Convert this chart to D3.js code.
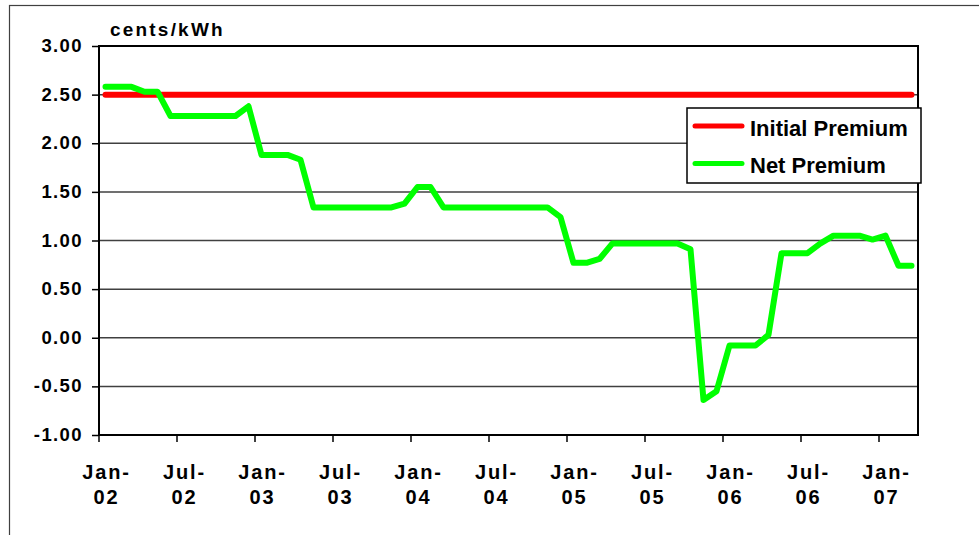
<!DOCTYPE html>
<html>
<head>
<meta charset="utf-8">
<script src="https://cdn.jsdelivr.net/npm/d3@7"></script>
<style>
  body { margin: 0; background: #fff; }
  svg text { font-family: "Liberation Sans", Arial, sans-serif; font-weight: bold; fill: #000; }
</style>
</head>
<body>
<div id="chart"></div>
<script>
// monthly categories, Jan-02 .. Mar-07
var months = d3.timeMonth.range(new Date(2002, 0, 1), new Date(2007, 3, 1));

// cents/kWh, one value per month
var initialPremium = [
  2.50, 2.50, 2.50, 2.50, 2.50, 2.50, 2.50, 2.50, 2.50, 2.50, 2.50, 2.50,
  2.50, 2.50, 2.50, 2.50, 2.50, 2.50, 2.50, 2.50, 2.50, 2.50, 2.50, 2.50,
  2.50, 2.50, 2.50, 2.50, 2.50, 2.50, 2.50, 2.50, 2.50, 2.50, 2.50, 2.50,
  2.50, 2.50, 2.50, 2.50, 2.50, 2.50, 2.50, 2.50, 2.50, 2.50, 2.50, 2.50,
  2.50, 2.50, 2.50, 2.50, 2.50, 2.50, 2.50, 2.50, 2.50, 2.50, 2.50, 2.50,
  2.50, 2.50, 2.50
];
var netPremium = [
  2.58, 2.58, 2.58, 2.53, 2.53, 2.28, 2.28, 2.28, 2.28, 2.28, 2.28, 2.38,
  1.88, 1.88, 1.88, 1.83, 1.34, 1.34, 1.34, 1.34, 1.34, 1.34, 1.34, 1.38,
  1.55, 1.55, 1.34, 1.34, 1.34, 1.34, 1.34, 1.34, 1.34, 1.34, 1.34, 1.24,
  0.77, 0.77, 0.81, 0.97, 0.97, 0.97, 0.97, 0.97, 0.97, 0.91, -0.64, -0.55,
  -0.08, -0.08, -0.08, 0.03, 0.87, 0.87, 0.87, 0.97, 1.05, 1.05, 1.05, 1.01,
  1.05, 0.74, 0.74
];
var yTicks = [-1, -0.5, 0, 0.5, 1, 1.5, 2, 2.5, 3];
var seriesNames = ["Initial Premium", "Net Premium"];
var seriesColors = ["#ff0000", "#00ff00"];

var width = 979,
    height = 535,
    plot_left = 99,
    plot_right = 918,
    plot_top = 46,
    plot_bottom = 435;

var svg = d3.select("#chart").append("svg")
    .attr("width", width)
    .attr("height", height);

// outer chart border
svg.append("rect")
    .attr("x", 9.5).attr("y", 5.5)
    .attr("width", 990).attr("height", 560)
    .attr("fill", "none")
    .attr("stroke", "#404040")
    .attr("stroke-width", 1.2);

// scales
var x = d3.scaleBand()
    .domain(months)
    .range([plot_left, plot_right])
    .paddingInner(0).paddingOuter(0);
var y = d3.scaleLinear()
    .domain([-1, 3])
    .range([plot_bottom, plot_top]);

var halfYear = months.filter(function(d){ return d.getMonth() % 6 == 0; });

// gridlines
svg.append("g")
    .attr("id", "grid")
    .selectAll("line")
    .data(yTicks)
    .enter().append("line")
        .attr("x1", plot_left).attr("x2", plot_right)
        .attr("y1", function(d){ return y(d); })
        .attr("y2", function(d){ return y(d); })
        .attr("stroke", "#404040")
        .attr("stroke-width", 1.5);

// y axis (plain hyphen for negatives, like the original)
var yAxis = d3.axisLeft(y)
    .tickValues(yTicks)
    .tickSize(7)
    .tickFormat(function(d){ return d.toFixed(2); });
var gy = svg.append("g")
    .attr("id", "y-axis")
    .attr("transform", "translate(" + plot_left + ",0)")
    .call(yAxis);
gy.select(".domain").remove();
gy.selectAll(".tick line").attr("stroke", "#000").attr("stroke-width", 1.5);
gy.selectAll(".tick text")
    .attr("x", -16)
    .attr("dy", "0.3em")
    .attr("font-size", 18.5)
    .attr("letter-spacing", 1.4);

// x axis ticks at every half year boundary
var xAxis = d3.axisBottom(x)
    .tickValues(halfYear)
    .tickSize(7)
    .tickFormat("");
var gx = svg.append("g")
    .attr("id", "x-axis")
    .attr("transform", "translate(0," + plot_bottom + ")")
    .call(xAxis);
gx.select(".domain").remove();
gx.selectAll(".tick")
    .attr("transform", function(d){ return "translate(" + x(d) + ",0)"; });
gx.selectAll(".tick line").attr("stroke", "#000").attr("stroke-width", 1.5);

// two line labels centred on the month
var xLabels = svg.append("g").attr("id", "x-labels");
halfYear.forEach(function(d) {
    var cx = x(d) + x.bandwidth() / 2 + 1;
    xLabels.append("text")
        .attr("x", cx).attr("y", 479)
        .attr("text-anchor", "middle")
        .attr("font-size", 20)
        .attr("letter-spacing", 1.8)
        .text(d3.timeFormat("%b-")(d));
    xLabels.append("text")
        .attr("x", cx).attr("y", 504)
        .attr("text-anchor", "middle")
        .attr("font-size", 20)
        .attr("letter-spacing", 1.8)
        .text(d3.timeFormat("%y")(d));
});

// plot frame
svg.append("rect")
    .attr("x", plot_left).attr("y", plot_top)
    .attr("width", plot_right - plot_left)
    .attr("height", plot_bottom - plot_top)
    .attr("fill", "none")
    .attr("stroke", "#000")
    .attr("stroke-width", 2);

// unit label
svg.append("text")
    .attr("x", 110).attr("y", 36)
    .attr("font-size", 19)
    .attr("letter-spacing", 2.2)
    .text("cents/kWh");

// lines
var lineDraw = d3.line()
    .x(function(d, i){ return x(months[i]) + x.bandwidth() / 2; })
    .y(function(d){ return y(d); });
var lines = svg.append("g").attr("id", "lines");
[initialPremium, netPremium].forEach(function(series, si) {
    lines.append("path")
        .attr("d", lineDraw(series))
        .attr("fill", "none")
        .attr("stroke", seriesColors[si])
        .attr("stroke-width", 6)
        .attr("stroke-linejoin", "round")
        .attr("stroke-linecap", "round");
});

// legend
var legend = svg.append("g").attr("id", "legend");
legend.append("rect")
    .attr("x", 687).attr("y", 108)
    .attr("width", 234).attr("height", 75)
    .attr("fill", "#fff")
    .attr("stroke", "#000")
    .attr("stroke-width", 1.5);
seriesNames.forEach(function(name, i) {
    var ly = 126 + i * 37.5;
    legend.append("line")
        .attr("x1", 695).attr("x2", 742)
        .attr("y1", ly).attr("y2", ly)
        .attr("stroke", seriesColors[i])
        .attr("stroke-width", 5)
        .attr("stroke-linecap", "round");
    legend.append("text")
        .attr("x", 750).attr("y", ly + 9.5)
        .attr("font-size", 22)
        .text(name);
});
</script>
</body>
</html>
